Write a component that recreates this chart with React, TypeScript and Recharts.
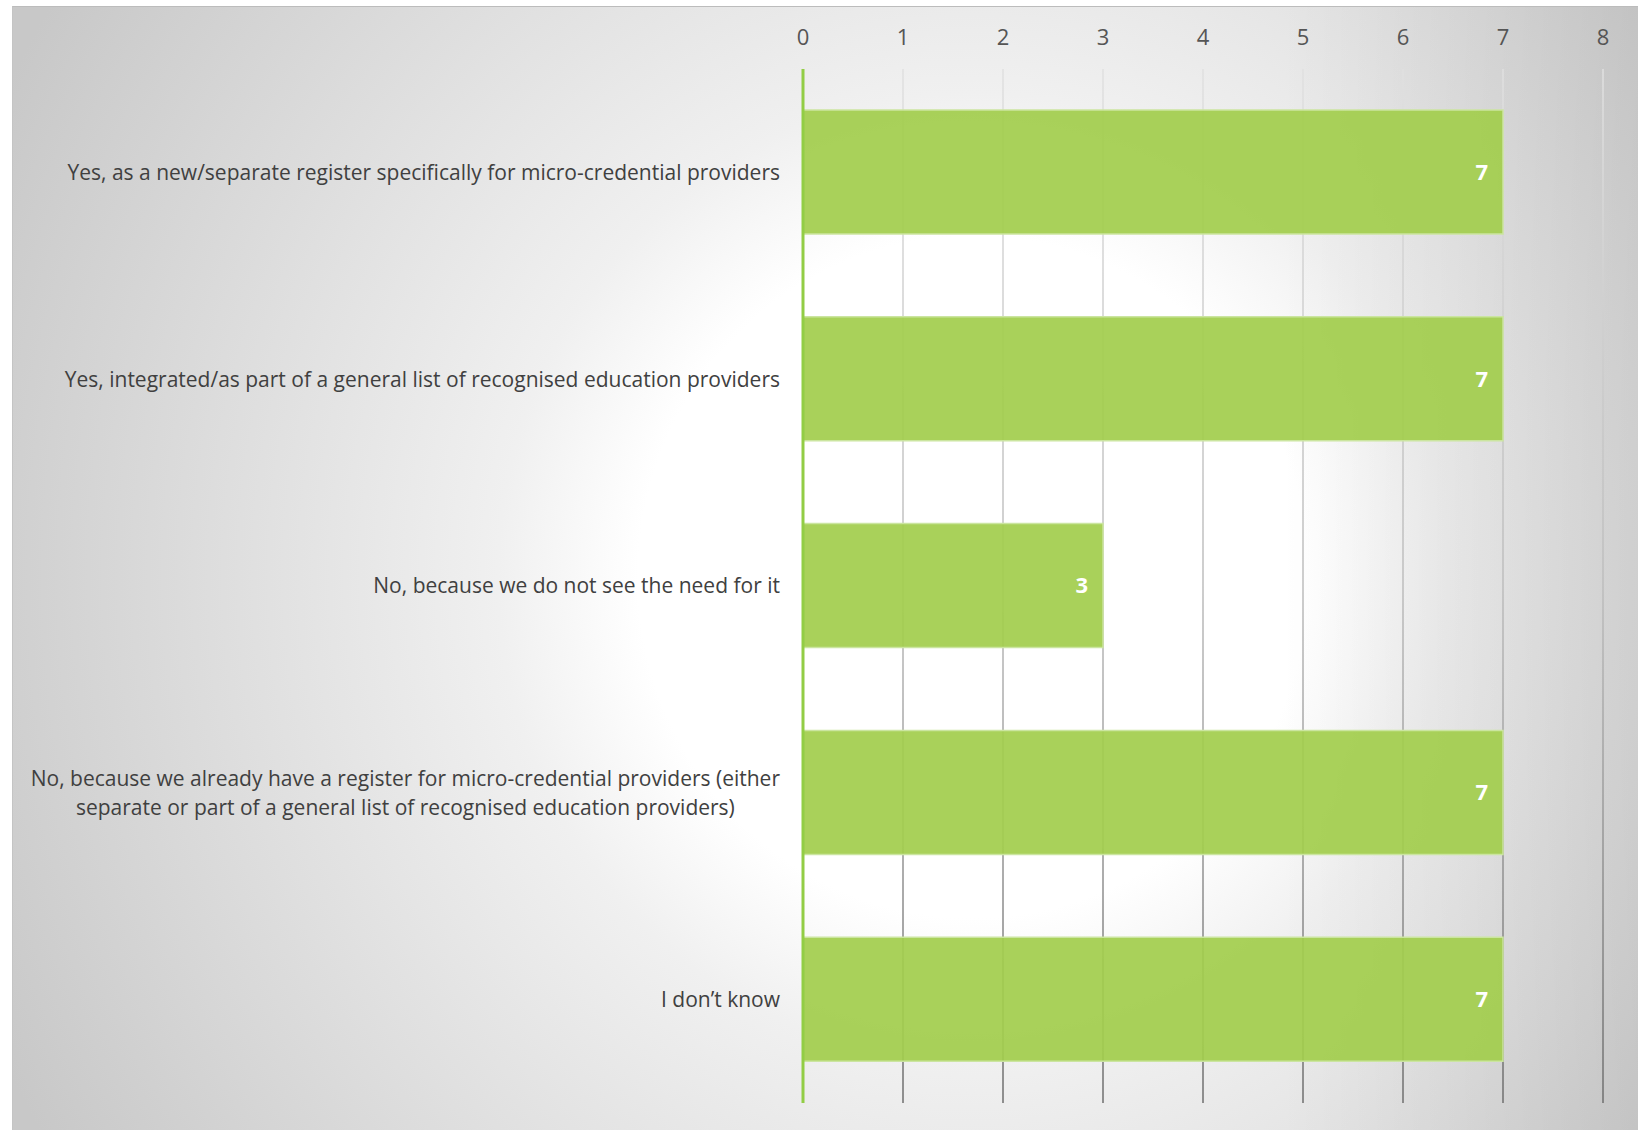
import { Bar, BarChart, CartesianGrid, LabelList, XAxis, YAxis } from "recharts";

const categories = [
  "Yes, as a new/separate register specifically for micro-credential providers",
  "Yes, integrated/as part of a general list of recognised education providers",
  "No, because we do not see the need for it",
  "No, because we already have a register for micro-credential providers (either\nseparate or part of a general list of recognised education providers)",
  "I don’t know",
];
const counts = [7, 7, 3, 7, 7];
const xTicks = [0, 1, 2, 3, 4, 5, 6, 7, 8];

const data = categories.map((label, i) => ({ label, value: counts[i] }));

const FONT = '"Open Sans", sans-serif';
const LABEL_SIZE = 21;

let ctx: CanvasRenderingContext2D | null = null;
function measure(text: string) {
  if (!ctx) ctx = document.createElement("canvas").getContext("2d");
  if (!ctx) return text.length * LABEL_SIZE * 0.5;
  ctx.font = `${LABEL_SIZE}px "Open Sans"`;
  return ctx.measureText(text).width;
}

function CategoryTick({ x, y, payload }: any) {
  const lines = String(payload.value).split("\n");
  const lineH = 29;
  if (lines.length === 1) {
    return (
      <text x={x} y={y} dy="0.35em" textAnchor="end" fill="#404040" fontSize={LABEL_SIZE} fontFamily={FONT}>
        {lines[0]}
      </text>
    );
  }
  const maxW = Math.max(...lines.map(measure));
  const cx = x - maxW / 2;
  return (
    <text textAnchor="middle" fill="#404040" fontSize={LABEL_SIZE} fontFamily={FONT}>
      {lines.map((l, i) => (
        <tspan key={i} x={cx} y={y + (i - (lines.length - 1) / 2) * lineH} dy="0.35em">
          {l}
        </tspan>
      ))}
    </text>
  );
}

function ValueTick({ x, y, payload }: any) {
  return (
    <text x={x} y={y} dy="0.35em" textAnchor="middle" fill="#555555" fontSize={22} fontFamily={FONT}>
      {payload.value}
    </text>
  );
}

export default function App() {
  return (
    <div style={{ position: "absolute", left: 0, top: 0, width: 1638, height: 1130, background: "#fff", overflow: "hidden" }}>
      <div
        style={{
          position: "absolute",
          left: 12,
          top: 6,
          width: 1626,
          height: 1124,
          boxSizing: "border-box",
          borderTop: "1px solid #bcbcbc",
          borderLeft: "1px solid #c4c4c4",
          background:
            "linear-gradient(to right, rgba(0,0,0,0) 78%, rgba(0,0,0,0.09) 100%), " +
            "radial-gradient(ellipse 1080px 1100px at 960px 570px, #ffffff 0%, #ffffff 31%, #f0f0f0 44%, #dfdfdf 68%, #c8c8c8 100%)",
        }}
      >
        <BarChart
          width={1625}
          height={1123}
          data={data}
          layout="vertical"
          margin={{ top: 0, right: 35, bottom: 27, left: 0 }}
        >
          <defs>
            <linearGradient id="gridFade" gradientUnits="userSpaceOnUse" x1={0} y1={62} x2={0} y2={1096}>
              <stop offset="0%" stopColor="#e0e0e0" />
              <stop offset="50%" stopColor="#bdbdbd" />
              <stop offset="100%" stopColor="#6e6e6e" />
            </linearGradient>
          </defs>
          <CartesianGrid horizontal={false} stroke="url(#gridFade)" strokeWidth={1.5} />
          <XAxis
            type="number"
            orientation="top"
            domain={[0, 8]}
            ticks={xTicks}
            height={62}
            axisLine={false}
            tickLine={false}
            tickSize={0}
            tickMargin={32}
            tick={<ValueTick />}
            interval={0}
          />
          <YAxis
            type="category"
            dataKey="label"
            width={790}
            tickLine={false}
            tickSize={0}
            tickMargin={23}
            axisLine={{ stroke: "#92cd45", strokeWidth: 3 }}
            tick={<CategoryTick />}
            interval={0}
          />
          <Bar
            dataKey="value"
            barSize={124}
            fill="#a2cd4e"
            fillOpacity={0.93}
            stroke="#cbe5a0"
            strokeWidth={1.5}
            isAnimationActive={false}
          >
            <LabelList
              dataKey="value"
              position="insideRight"
              offset={15}
              fill="#ffffff"
              fontSize={22}
              fontWeight={700}
              fontFamily={FONT}
            />
          </Bar>
        </BarChart>
      </div>
    </div>
  );
}
